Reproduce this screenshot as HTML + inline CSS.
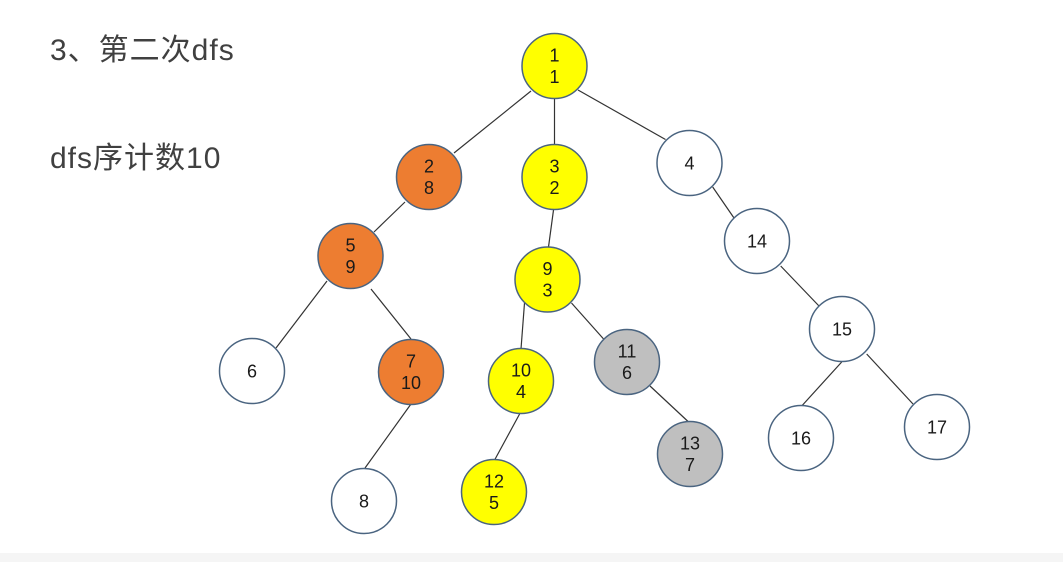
<!DOCTYPE html>
<html>
<head>
<meta charset="utf-8">
<style>
html,body{margin:0;padding:0;background:#fff;}
body{width:1063px;height:562px;overflow:hidden;position:relative;}
svg{position:absolute;left:0;top:0;}
.t{font-family:"Liberation Sans","Noto Sans CJK SC",sans-serif;}
</style>
</head>
<body>
<svg width="1063" height="562" viewBox="0 0 1063 562" xmlns="http://www.w3.org/2000/svg">
<rect x="0" y="0" width="1063" height="562" fill="#ffffff"/>
<rect x="0" y="553" width="1063" height="9" fill="#f5f5f5"/>

<text class="t" x="50" y="60" font-size="30" letter-spacing="1" fill="#404040">3、第二次dfs</text>
<text class="t" x="50" y="168" font-size="30" letter-spacing="1" fill="#404040">dfs序计数10</text>

<g stroke="#333" stroke-width="1.2" fill="none">
<line x1="531" y1="91" x2="454" y2="153"/>
<line x1="554.5" y1="99" x2="554.5" y2="144"/>
<line x1="578" y1="90" x2="665.5" y2="139.5"/>
<line x1="405" y1="202" x2="374" y2="232"/>
<line x1="553.5" y1="210" x2="548.5" y2="247"/>
<line x1="327" y1="281" x2="276" y2="348"/>
<line x1="371" y1="289" x2="411" y2="339"/>
<line x1="411" y1="404" x2="365" y2="468"/>
<line x1="524.5" y1="303" x2="521" y2="349"/>
<line x1="571.5" y1="303" x2="603.6" y2="339"/>
<line x1="519.6" y1="414" x2="494.6" y2="460"/>
<line x1="650" y1="386" x2="688.6" y2="422"/>
<line x1="712.7" y1="187" x2="734" y2="218"/>
<line x1="780.7" y1="266" x2="819" y2="306"/>
<line x1="841.7" y1="362" x2="801.7" y2="406"/>
<line x1="866.7" y1="354" x2="913" y2="404"/>
</g>

<g stroke="#4a6480" stroke-width="1.5">
<circle cx="554.5" cy="66" r="32.5" fill="#ffff00"/>
<circle cx="429" cy="177" r="32.5" fill="#ed7d31"/>
<circle cx="554.5" cy="177" r="32.5" fill="#ffff00"/>
<circle cx="689.5" cy="163" r="32.5" fill="#ffffff"/>
<circle cx="350.5" cy="256" r="32.5" fill="#ed7d31"/>
<circle cx="252" cy="371" r="32.5" fill="#ffffff"/>
<circle cx="411" cy="372" r="32.5" fill="#ed7d31"/>
<circle cx="364" cy="501" r="32.5" fill="#ffffff"/>
<circle cx="547.5" cy="279.5" r="32.5" fill="#ffff00"/>
<circle cx="521" cy="381" r="32.5" fill="#ffff00"/>
<circle cx="627" cy="362" r="32.5" fill="#bfbfbf"/>
<circle cx="494" cy="492" r="32.5" fill="#ffff00"/>
<circle cx="690" cy="454" r="32.5" fill="#bfbfbf"/>
<circle cx="757" cy="241" r="32.5" fill="#ffffff"/>
<circle cx="842" cy="329" r="32.5" fill="#ffffff"/>
<circle cx="801" cy="438" r="32.5" fill="#ffffff"/>
<circle cx="937" cy="427" r="32.5" fill="#ffffff"/>
</g>

<g class="t" font-size="18" fill="#1a1a1a" text-anchor="middle">
<text x="554.5" y="61.5">1</text><text x="554.5" y="83">1</text>
<text x="429" y="172.5">2</text><text x="429" y="194">8</text>
<text x="554.5" y="172.5">3</text><text x="554.5" y="194">2</text>
<text x="689.5" y="169.5">4</text>
<text x="350.5" y="251.5">5</text><text x="350.5" y="273">9</text>
<text x="252" y="377.5">6</text>
<text x="411" y="367.5">7</text><text x="411" y="389">10</text>
<text x="364" y="507.5">8</text>
<text x="547.5" y="275">9</text><text x="547.5" y="296.5">3</text>
<text x="521" y="376.5">10</text><text x="521" y="398">4</text>
<text x="627" y="357.5">11</text><text x="627" y="379">6</text>
<text x="494" y="487.5">12</text><text x="494" y="509">5</text>
<text x="690" y="449.5">13</text><text x="690" y="471">7</text>
<text x="757" y="247.5">14</text>
<text x="842" y="335.5">15</text>
<text x="801" y="444.5">16</text>
<text x="937" y="433.5">17</text>
</g>
</svg>
</body>
</html>
